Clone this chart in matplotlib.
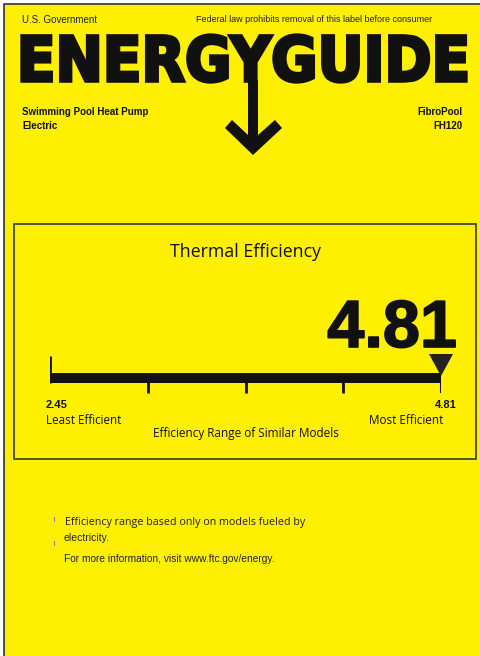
import matplotlib
matplotlib.use('Agg')
import matplotlib.pyplot as plt
import matplotlib.patheffects as pe
import numpy as np
from matplotlib.patches import Rectangle, Polygon, PathPatch
from matplotlib.textpath import TextPath
from matplotlib.font_manager import FontProperties
from matplotlib.transforms import Affine2D

# label data
range_min = 2.45
range_max = 4.81
model_value = 4.81
n_intervals = 4
product_type = ['Swimming Pool Heat Pump', 'Electric']
product_model = ['FibroPool', 'FH120']
metric_name = 'Thermal Efficiency'
notes = ['Efficiency range based only on models fueled by',
         'electricity.',
         'For more information, visit www.ftc.gov/energy.']

yellow = '#FFEF00'
ink = '#111111'
myriad = 'Open Sans'
arial = 'Liberation Sans'

fig = plt.figure(figsize=(4.8, 6.56), dpi=100, facecolor='white')
ax = fig.add_axes([0, 0, 1, 1])
ax.set_xlim(0, 480)
ax.set_ylim(656, 0)
ax.axis('off')
renderer = fig.canvas.get_renderer()


def fit(t, width):
    # scale a text to the width it has on the label
    bb = t.get_window_extent(renderer)
    t.set_fontsize(t.get_fontsize() * width / bb.width)
    return t


# label background and outer border (left/top only)
ax.add_patch(Rectangle((4, 4), 480, 660, facecolor=yellow, edgecolor='none'))
ax.plot([4, 4, 480], [660, 4, 4], color='#333333', lw=1.2)

# header
ax.text(22, 20, 'U.S. Government', fontsize=7, family=arial, color='#222222', va='center')
ax.text(432, 20, 'Federal law prohibits removal of this label before consumer', fontsize=6.5,
        family=arial, color='#222222', va='center', ha='right')

# ENERGYGUIDE logo, stretched into its box
tp = TextPath((0, 0), 'ENERGYGUIDE', size=100,
              prop=FontProperties(family='DejaVu Sans', weight='bold'))
ext = tp.get_extents()
x0, x1, ytop, ybot = 22, 466, 35, 82
sx = (x1 - x0) / ext.width
sy = (ybot - ytop) / ext.height
tr = Affine2D().translate(-ext.x0, -ext.y0).scale(sx, -sy).translate(x0, ybot)
ax.add_patch(PathPatch(tr.transform_path(tp), facecolor=ink, edgecolor=ink, lw=2.4,
                       joinstyle='miter'))

# arrow from the Y
arrow = [(253, 155), (225, 128), (232, 120), (248, 135), (248, 80),
         (258, 80), (258, 135), (275, 120), (282, 128)]
ax.add_patch(Polygon(arrow, closed=True, facecolor=ink, edgecolor='none'))

for i, t in enumerate(product_type):
    ax.text(22, 112 + 14 * i, t, fontsize=7, family=arial, weight='bold', color=ink, va='center')
for i, t in enumerate(product_model):
    ax.text(463, 112 + 14 * i, t, fontsize=7, family=arial, weight='bold', color=ink,
            va='center', ha='right')

# inner box
ax.add_patch(Rectangle((14, 224), 462, 235, facecolor='none', edgecolor='#444444', lw=1.3))
fit(ax.text(245, 252, metric_name, fontsize=13, family=myriad, color=ink,
            ha='center', va='center'), 150)
ax.text(457, 347, f'{model_value:.2f}', fontsize=48, family=arial, weight='bold',
        color=ink, ha='right', va='baseline',
        path_effects=[pe.Stroke(linewidth=1.2, foreground=ink, joinstyle='round'), pe.Normal()])

# scale axes, in efficiency units
sax = fig.add_axes([50 / 480, 1 - 396 / 656, (441 - 50) / 480, 46 / 656])
sax.set_xlim(range_min, range_max)
sax.set_ylim(396, 350)
sax.axis('off')
sax.patch.set_alpha(0)
span = range_max - range_min
sax.barh(378, span, left=range_min, height=10, color=ink)
ticks = np.linspace(range_min, range_max, n_intervals + 1)
sax.vlines(ticks[0], 356, 383, color=ink, lw=2)
sax.vlines(ticks[1:-1], 378, 393, color=ink, lw=2)
sax.vlines(ticks[-1], 375, 393, color=ink, lw=1.5)
hw = 12 * span / 391
sax.add_patch(Polygon([(model_value - hw, 354), (model_value + hw, 354), (model_value, 376)],
                      closed=True, facecolor='#222222', edgecolor='none', clip_on=False))

ax.text(46, 405, f'{range_min:.2f}', fontsize=8, family=arial, weight='bold', color=ink, va='center')
ax.text(457, 405, f'{range_max:.2f}', fontsize=8, family=arial, weight='bold', color=ink,
        va='center', ha='right')
fit(ax.text(46, 421, 'Least Efficient', fontsize=9, family=myriad, color=ink, va='center'), 76)
fit(ax.text(443, 421, 'Most Efficient', fontsize=9, family=myriad, color=ink, va='center',
            ha='right'), 75)
fit(ax.text(246, 433, 'Efficiency Range of Similar Models', fontsize=9, family=myriad,
            color=ink, va='center', ha='center'), 188)

# footnotes
ax.plot([54, 54], [517, 521], color='#888888', lw=0.8)
ax.plot([54, 54], [541, 545], color='#888888', lw=0.8)
fit(ax.text(65, 522, notes[0], fontsize=8, family=myriad, color='#222222', va='center'), 242)
ax.text(64, 538, notes[1], fontsize=7.5, family=arial, color='#222222', va='center')
ax.text(64, 559, notes[2], fontsize=7.3, family=arial, color='#222222', va='center')

plt.savefig('out.png', dpi=100, facecolor='white')
